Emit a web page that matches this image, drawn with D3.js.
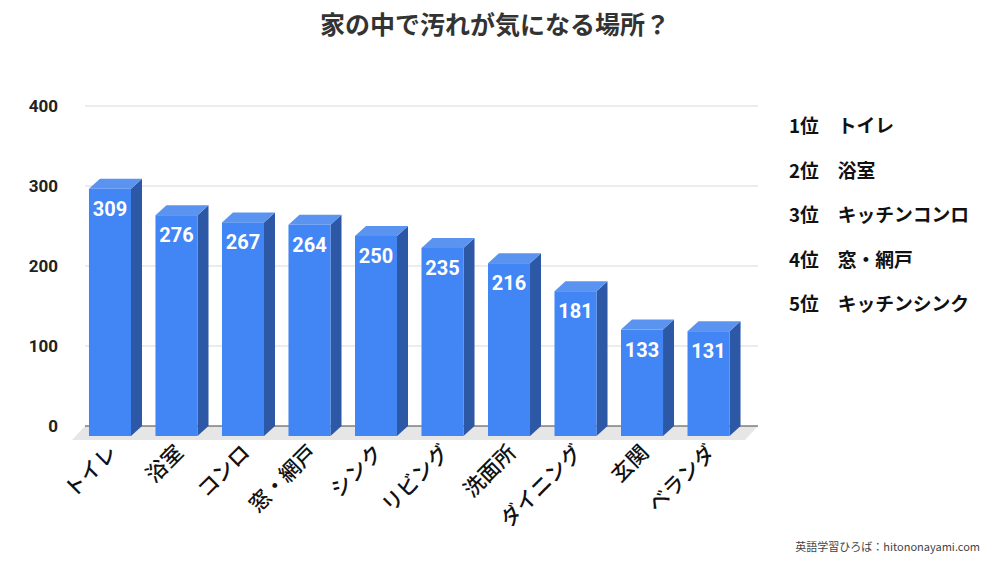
<!DOCTYPE html>
<html>
<head>
<meta charset="utf-8">
<script src="https://cdn.jsdelivr.net/npm/d3@7"></script>
<style>
  body { margin: 0; background: #fff; }
  svg { display: block; }
  .tick-label { font-family: Roboto, "Noto Sans CJK JP", sans-serif; font-weight: bold; font-size: 17px; fill: #222; }
  .value { font-family: Roboto, "Noto Sans CJK JP", sans-serif; font-weight: bold; font-size: 20px; fill: #fff; }
  .cat { font-family: "Noto Sans CJK JP", sans-serif; font-size: 21px; font-weight: 500; fill: #111; }
  .legend { font-family: "Noto Sans CJK JP", sans-serif; font-size: 18.8px; font-weight: bold; fill: #111; }
</style>
</head>
<body>
<svg width="1000" height="563"></svg>
<script>
var svg = d3.select('svg');

// Data
var categories = ['トイレ', '浴室', 'コンロ', '窓・網戸', 'シンク', 'リビング', '洗面所', 'ダイニング', '玄関', 'ベランダ'];
var values = [309, 276, 267, 264, 250, 235, 216, 181, 133, 131];
var yTicks = [0, 100, 200, 300, 400];
var ranking = ['1位　トイレ', '2位　浴室', '3位　キッチンコンロ', '4位　窓・網戸', '5位　キッチンシンク'];
var title = '家の中で汚れが気になる場所？';
var credit = '英語学習ひろば：hitononayami.com';

// Layout
var plot = {l: 85, r: 758, t: 106, b: 426};
var depth = {x: 11, y: 10};   // 3D offset of the back plane
var frontShift = 10;          // front faces sit below the axis plane

var yScale = d3.scaleLinear().domain([0, 400]).range([plot.b, plot.t]);
var xScale = d3.scaleBand().domain(categories)
    .range([75, 743.5]).paddingInner(0.368).paddingOuter(0.21);

// Title
svg.append('text')
    .attr('x', 495).attr('y', 34)
    .attr('text-anchor', 'middle')
    .style('font-family', '"Noto Sans CJK JP", sans-serif')
    .style('font-weight', 'bold').style('font-size', '25px').style('fill', '#333')
    .text(title);

// Gridlines
svg.append('g').selectAll('line')
    .data(yTicks.slice(1))
    .enter().append('line')
    .attr('x1', plot.l).attr('x2', plot.r)
    .attr('y1', function (d) { return yScale(d); })
    .attr('y2', function (d) { return yScale(d); })
    .attr('stroke', '#d9d9d9').attr('stroke-width', 1);

// Floor
svg.append('path')
    .attr('d', 'M' + [plot.l, plot.b] + 'L' + [plot.r, plot.b] +
        'L' + [plot.r - 13, plot.b + 14] + 'L' + [plot.l - 13, plot.b + 14] + 'Z')
    .attr('fill', '#e6e6e6');

svg.append('line')
    .attr('x1', plot.l).attr('x2', plot.r)
    .attr('y1', plot.b).attr('y2', plot.b)
    .attr('stroke', '#444').attr('stroke-width', 1.2);

// Y tick labels
svg.append('g').selectAll('text')
    .data(yTicks)
    .enter().append('text')
    .attr('class', 'tick-label')
    .attr('x', 58)
    .attr('y', function (d) { return yScale(d) + 6; })
    .attr('text-anchor', 'end')
    .text(function (d) { return d; });

// Bars
var bars = svg.append('g').selectAll('g')
    .data(values)
    .enter().append('g');

bars.each(function (v, i) {
  var g = d3.select(this);
  var x0 = xScale(categories[i]);
  var w = xScale.bandwidth();
  var yb = plot.b + frontShift;
  var yt = yScale(v) + frontShift;

  // side face
  g.append('path')
      .attr('d', 'M' + [x0 + w, yt] + 'L' + [x0 + w + depth.x, yt - depth.y] +
          'L' + [x0 + w + depth.x, yb - depth.y] + 'L' + [x0 + w, yb] + 'Z')
      .attr('fill', '#2c58a6');
  // top face
  g.append('path')
      .attr('d', 'M' + [x0, yt] + 'L' + [x0 + depth.x, yt - depth.y] +
          'L' + [x0 + w + depth.x, yt - depth.y] + 'L' + [x0 + w, yt] + 'Z')
      .attr('fill', '#5b93f0');
  // front face
  g.append('rect')
      .attr('x', x0).attr('y', yt)
      .attr('width', w).attr('height', yb - yt)
      .attr('fill', '#4285f4');
  // value label
  g.append('text')
      .attr('class', 'value')
      .attr('x', x0 + w / 2).attr('y', yt + 27)
      .attr('text-anchor', 'middle')
      .text(v);
});

// Category labels, rotated
svg.append('g').selectAll('text')
    .data(categories)
    .enter().append('text')
    .attr('class', 'cat')
    .attr('text-anchor', 'end')
    .attr('transform', function (d) {
      var cx = xScale(d) + xScale.bandwidth() / 2 + 8;
      return 'translate(' + [cx, 454] + ')rotate(-45)';
    })
    .text(function (d) { return d; });

// Ranking list
svg.append('g').selectAll('text')
    .data(ranking)
    .enter().append('text')
    .attr('class', 'legend')
    .attr('x', 789)
    .attr('y', function (d, i) { return 133 + i * 44.5; })
    .text(function (d) { return d; });

// Credit
svg.append('text')
    .attr('x', 980).attr('y', 551)
    .attr('text-anchor', 'end')
    .style('font-family', '"Noto Sans CJK JP", sans-serif')
    .style('font-size', '11px').style('fill', '#444')
    .text(credit);
</script>
</body>
</html>
